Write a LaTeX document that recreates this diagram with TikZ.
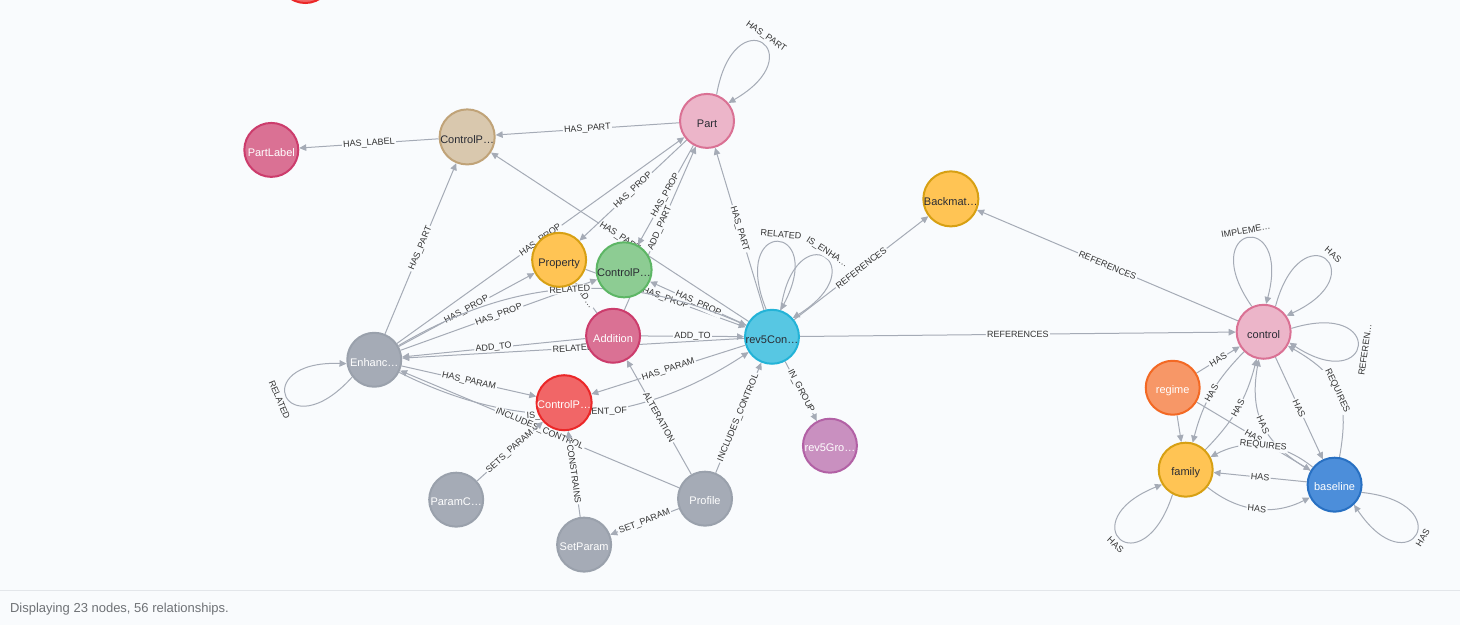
\documentclass[tikz,border=0pt]{standalone}
\usepackage{fontspec}
\setmainfont{Liberation Sans}
\usetikzlibrary{arrows.meta,calc}
\definecolor{bg}{HTML}{F9FBFD}
\definecolor{edgec}{HTML}{A5ABB6}
\definecolor{labc}{HTML}{333333}
\definecolor{darkt}{HTML}{2A2C34}
\definecolor{pinkf}{HTML}{ECB5C9}\definecolor{pinkb}{HTML}{DA7194}
\definecolor{rosef}{HTML}{DA7194}\definecolor{roseb}{HTML}{CC3C6C}
\definecolor{tanf}{HTML}{D9C8AE}\definecolor{tanb}{HTML}{C0A378}
\definecolor{yelf}{HTML}{FFC454}\definecolor{yelb}{HTML}{D7A013}
\definecolor{grnf}{HTML}{8DCC93}\definecolor{grnb}{HTML}{5DB665}
\definecolor{gryf}{HTML}{A5ABB6}\definecolor{gryb}{HTML}{9AA1AC}
\definecolor{cyaf}{HTML}{57C7E3}\definecolor{cyab}{HTML}{23B3D7}
\definecolor{redf}{HTML}{F16667}\definecolor{redb}{HTML}{EB2728}
\definecolor{purf}{HTML}{C990C0}\definecolor{purb}{HTML}{B261A5}
\definecolor{orgf}{HTML}{F79767}\definecolor{orgb}{HTML}{F36924}
\definecolor{bluf}{HTML}{4C8EDA}\definecolor{blub}{HTML}{2870C2}
\definecolor{footline}{HTML}{E3E6EA}
\definecolor{foott}{HTML}{6F7276}
\pgfdeclarelayer{bgl}
\pgfdeclarelayer{edges}
\pgfsetlayers{bgl,edges,main}
\begin{document}
\begin{tikzpicture}[x=1pt,y=1pt,
  gnode/.style={circle,minimum size=54pt,inner sep=0pt,line width=2pt,text height=12.5pt,text depth=0pt,font=\fontsize{11}{13}\selectfont},
  pinkn/.style={gnode,fill=pinkf,draw=pinkb,text=darkt},
  rosen/.style={gnode,fill=rosef,draw=roseb,text=white},
  tann/.style={gnode,fill=tanf,draw=tanb,text=darkt},
  yeln/.style={gnode,fill=yelf,draw=yelb,text=darkt},
  grnn/.style={gnode,fill=grnf,draw=grnb,text=darkt},
  gryn/.style={gnode,fill=gryf,draw=gryb,text=white},
  cyan/.style={gnode,fill=cyaf,draw=cyab,text=darkt},
  redn/.style={gnode,fill=redf,draw=redb,text=white},
  purn/.style={gnode,fill=purf,draw=purb,text=white},
  orgn/.style={gnode,fill=orgf,draw=orgb,text=white},
  blun/.style={gnode,fill=bluf,draw=blub,text=white},
  edge/.style={draw=edgec,line width=1pt,-{Triangle[length=7pt,width=6.5pt]}},
  lab/.style={fill=bg,inner sep=1.3pt,text=labc,font=\fontsize{9}{10}\selectfont},
  el/.style={lab,midway,sloped}]
\begin{pgfonlayer}{bgl}
\fill[bg] (0,0) rectangle (1460,-625);
\draw[footline,line width=1pt] (0,-590.5) -- (1460,-590.5);
\end{pgfonlayer}
\useasboundingbox (0,0) rectangle (1460,-625);
\node[anchor=west,text=foott,font=\fontsize{13}{15}\selectfont] (foot) at (6,-610) {Displaying 23 nodes, 56 relationships.};
\begin{scope}
\clip (0,0) rectangle (1460,-625);
\node[redn] (topn) at (305,24) {};
\end{scope}
% nodes
\node[rosen] (pl) at (271,-150) {PartLabel};
\node[tann] (cpt) at (467,-137) {ControlP…};
\node[pinkn] (part) at (707,-121) {Part};
\node[yeln] (back) at (951,-199) {Backmat…};
\node[yeln] (prop) at (559,-260) {Property};
\node[grnn] (cpg) at (624,-270) {ControlP…};
\node[gryn] (enh) at (374,-360) {Enhanc…};
\node[rosen] (add) at (613,-336) {Addition};
\node[cyan] (rev) at (772,-337) {rev5Con…};
\node[redn] (cpr) at (564,-403) {ControlP…};
\node[purn] (grp) at (830,-446) {rev5Gro…};
\node[gryn] (pc) at (456,-500) {ParamC…};
\node[gryn] (sp) at (584,-545) {SetParam};
\node[gryn] (prof) at (705,-499) {Profile};
\node[pinkn] (ctl) at (1264,-332) {control};
\node[orgn] (reg) at (1173,-388) {regime};
\node[yeln] (fam) at (1186,-470) {family};
\node[blun] (base) at (1335,-485) {baseline};
\begin{pgfonlayer}{edges}
\draw[edge] (cpt) -- node[el]{HAS\_LABEL} (pl);
\draw[edge] (part) -- node[el]{HAS\_PART} (cpt);
\draw[edge] (enh) -- node[el]{HAS\_PART} (cpt);
\draw[edge] (rev) -- node[el]{HAS\_PART} (cpt);
\draw[edge] (enh) -- node[el]{HAS\_PROP} (part);
\draw[edge] (part) -- node[el]{HAS\_PROP} (prop);
\draw[edge] (part) -- node[el]{HAS\_PROP} (cpg);
\draw[edge] (add) -- node[el]{ADD\_PART} (part);
\draw[edge] (add) -- node[el]{AD…} (prop);
\draw[edge] (enh) -- node[el]{HAS\_PROP} (prop);
\draw[edge] (enh) -- node[el]{HAS\_PROP} (cpg);
\draw[edge] (prop) -- node[el]{HAS\_PROP} (rev);
\draw[edge] (rev) -- node[el]{HAS\_PROP} (cpg);
\draw[edge] (add) -- node[el]{ADD\_TO} (rev);
\draw[edge] (add) -- node[el]{ADD\_TO} (enh);
\draw[edge] (rev) -- node[el]{RELATED} (enh);
\draw[edge] (enh) to[bend left=27] node[el]{RELATED} (rev);
\draw[edge] (enh) to[bend right=30] node[el]{IS\_ENHANCEMENT\_OF} (rev);
\draw[edge] (enh) -- node[el]{HAS\_PARAM} (cpr);
\draw[edge] (rev) -- node[el]{HAS\_PARAM} (cpr);
\draw[edge] (prof) -- node[el]{INCLUDES\_CONTROL} (enh);
\draw[edge] (prof) -- node[el]{INCLUDES\_CONTROL} (rev);
\draw[edge] (prof) -- node[el]{ALTERATION} (add);
\draw[edge] (prof) -- node[el]{SET\_PARAM} (sp);
\draw[edge] (sp) -- node[el]{CONSTRAINS} (cpr);
\draw[edge] (pc) -- node[el]{SETS\_PARAM} (cpr);
\draw[edge] (rev) -- node[el]{IN\_GROUP} (grp);
\draw[edge] (rev) -- node[el]{HAS\_PART} (part);
\draw[edge] (rev) -- node[el]{REFERENCES} (back);
\draw[edge] (ctl) -- node[el]{REFERENCES} (back);
\draw[edge] (rev) -- node[el]{REFERENCES} (ctl);
\draw[edge] (reg) -- node[el]{HAS} (ctl);
\draw[edge] (ctl) to[bend right=15] node[el]{HAS} (fam);
\draw[edge] (fam) to[bend right=15] node[el]{HAS} (ctl);
\draw[edge] (ctl) -- node[el]{HAS} (base);
\draw[edge] (base) to[bend left=35,looseness=1.15] node[el]{HAS} (ctl);
\draw[edge] (base) to[bend right=35,looseness=1.25] node[el]{REQUIRES} (ctl);
\draw[edge] (reg) -- (fam);
\draw[edge] (reg) -- node[el]{HAS} (base);
\draw[edge] (base) -- node[el]{HAS} (fam);
\draw[edge] (base) to[bend right=33,looseness=1.0] node[el]{REQUIRES} (fam);
\draw[edge] (fam) to[bend right=33,looseness=1.0] node[el]{HAS} (base);
% self loops
\draw[edge] (part.70) to[out=80,in=30,distance=100pt] (part.40);
\node[lab,rotate=-35] (lpart) at ($(part)+(55:103pt)$) {HAS\_PART};
\draw[edge] (enh.218) to[out=228,in=178,distance=100pt] (enh.188);
\node[lab,rotate=-67] (lenh) at ($(enh)+(203:103pt)$) {RELATED};
\draw[edge] (rev.102) to[out=112,in=62,distance=100pt] (rev.72);
\node[lab,rotate=-5] (lrev1) at ($(rev)+(85:103pt)$) {RELATED};
\draw[edge] (rev.72) to[out=82,in=32,distance=100pt] (rev.42);
\node[lab,rotate=-33] (lrev2) at ($(rev)+(57:101pt)$) {IS\_ENHA…};
\draw[edge] (ctl.115) to[out=125,in=75,distance=100pt] (ctl.85);
\node[lab,rotate=10] (lctl1) at ($(ctl)+(100:103pt)$) {IMPLEME…};
\draw[edge] (ctl.65) to[out=75,in=25,distance=100pt] (ctl.35);
\node[lab,rotate=-40] (lctl2) at ($(ctl)+(48:104pt)$) {HAS};
\draw[edge] (ctl.7) to[out=17,in=-33,distance=100pt] (ctl.337);
\node[lab,rotate=82] (lctl3) at ($(ctl)+(-10:103pt)$) {REFEREN…};
\draw[edge] (fam.242) to[out=252,in=202,distance=100pt] (fam.212);
\node[lab,rotate=-43] (lfam) at ($(fam)+(227:103pt)$) {HAS};
\draw[edge] (base.344) to[out=354,in=304,distance=100pt] (base.314);
\node[lab,rotate=59] (lbase) at ($(base)+(-31:103pt)$) {HAS};
\end{pgfonlayer}
\end{tikzpicture}
\end{document}
